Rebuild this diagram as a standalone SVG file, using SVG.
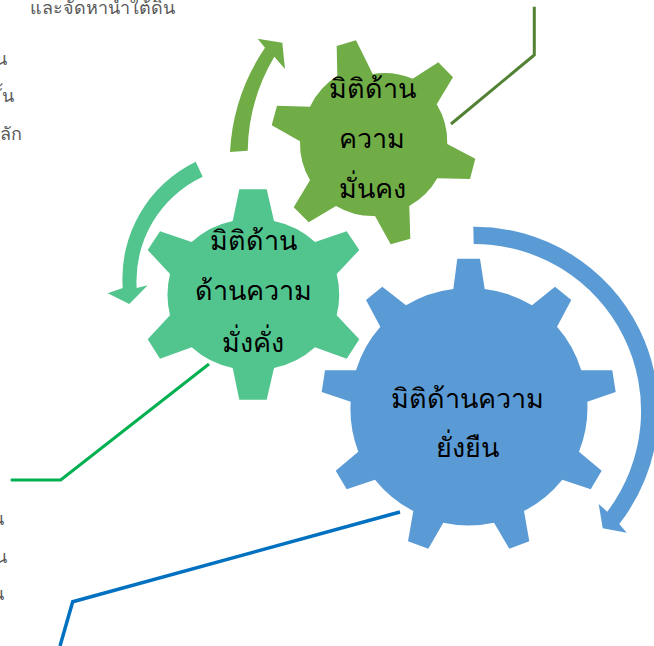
<svg xmlns="http://www.w3.org/2000/svg" width="654" height="646" viewBox="0 0 654 646">
<style>
.lbl{font-family:"DejaVu Sans","Noto Sans","Noto Sans CJK SC",sans-serif;font-size:27px;fill:#000;text-anchor:middle}
.side{font-family:"DejaVu Sans","Noto Sans","Noto Sans CJK SC",sans-serif;font-size:18px;fill:#595959}
.ln{fill:none;stroke-width:3;stroke-linejoin:miter}
</style>
<rect width="654" height="646" fill="#fff"/>
<g id="connectors">
<path class="ln" style="stroke:#548235" d="M534.3,6.7V55L451,124"/>
<path class="ln" style="stroke:#00B050" d="M10.7,480H60.7L209,364"/>
<path class="ln" style="stroke:#0070C0;stroke-width:3.5" d="M400,512L72.7,601.7L60,646"/>
<path fill="#70AD47" d="M230,152A205 205 0 0 1 265,47.7L257.7,38.7L282.3,42.7L285,69L274.3,56.7A190 190 0 0 0 247.7,150.7Z"/>
<path fill="#52C58F" d="M195.7,161.7A130 130 0 0 0 122.7,288L107.7,293.3L129.3,304L147.7,285.3L136.7,288A115 115 0 0 1 202.7,176.7Z"/>
<path fill="#5B9BD5" d="M473.3,226.7A184 184 0 0 1 619.3,524L626.7,532.7L602.7,528.3L598.7,504L607.3,511.7A167 167 0 0 0 473.7,244Z"/>
</g>
<g id="gear-security">
<path fill="#70AD47" d="M336.7,46L356,40.3L372.7,74A73 73 0 0 1 412.7,78.7L438.3,62.3L453,77.3L436.7,104.3A73 73 0 0 1 447.3,144L475.3,158.7L470,179L437.3,178.3A73 73 0 0 1 409.3,206L410.3,238.7L390.7,244.3L375,216A73 73 0 0 1 336,206L308.7,222.3L293.7,207.3L310,180.3A73 73 0 0 1 300,141.3L271.7,125.3L277,105.7L310,106.7A73 73 0 0 1 337.3,76Z"/>
<text class="lbl" x="372" y="98">มิติด้าน</text>
<text class="lbl" x="372" y="148">ความ</text>
<text class="lbl" x="372" y="198">มั่นคง</text>
</g>
<g id="gear-prosperity">
<path fill="#52C58F" d="M239.3,189.3H266.7L274,221A87 87 0 0 1 315,242L346.7,231.3L359.3,250L336.7,274A87 87 0 0 1 336.7,315.3L359.3,339.3L346.7,358.7L315,347.3A87 87 0 0 1 274,368L266.7,399.7H239.3L232.7,368A87 87 0 0 1 191.7,347.3L160,358.7L147.7,339.3L170,315.3A87 87 0 0 1 170,274L147.7,250L160,231.3L191.7,242A87 87 0 0 1 232.7,221Z"/>
<text class="lbl" x="253" y="250">มิติด้าน</text>
<text class="lbl" x="253" y="300">ด้านความ</text>
<text class="lbl" x="253" y="352">มั่งคั่ง</text>
</g>
<g id="gear-sustainability">
<path fill="#5B9BD5" d="M457.3,258.7H480L484.7,289A118 118 0 0 1 532,305.3L555,286.7L571.3,300L557,326.7A118 118 0 0 1 581.3,370.3H612.3L615.7,392L587.3,401.7A118 118 0 0 1 579,451.7L601.7,470.7L590.7,489.3L562.3,479.7A118 118 0 0 1 524,511L529.3,541.3L509.3,548.7L494,522.7A118 118 0 0 1 443.3,522.7L428.3,548.7L408,541.3L413.3,511A118 118 0 0 1 375,479.7L346.7,489.3L335.7,470.7L358.3,451.7A118 118 0 0 1 350.7,401.7L321.7,392L325,370.3H356A118 118 0 0 1 380.3,326.7L366,300L382.3,286.7L406,305.3A118 118 0 0 1 453.3,289Z"/>
<text class="lbl" x="467" y="408">มิติด้านความ</text>
<text class="lbl" x="467" y="457">ยั่งยืน</text>
</g>
<g id="side-text">
<text class="side" x="30" y="14">และจัดหาน้ำใต้ดิน</text>
<text class="side" x="7" y="65" text-anchor="end">น</text>
<text class="side" x="14" y="102" text-anchor="end">ั้น</text>
<text class="side" x="22" y="140" text-anchor="end">ลัก</text>
<text class="side" x="4" y="525" text-anchor="end">น</text>
<text class="side" x="7" y="563" text-anchor="end">น</text>
<text class="side" x="4" y="600" text-anchor="end">น</text>
</g>
</svg>
